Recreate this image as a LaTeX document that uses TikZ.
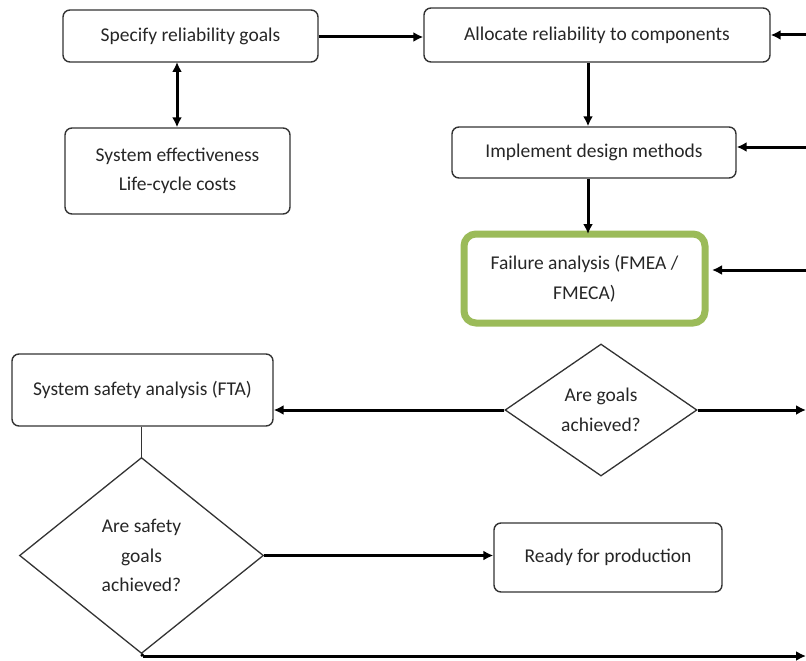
\documentclass[tikz,border=0pt]{standalone}
\usepackage{fontspec}
\setmainfont{Carlito}
\usetikzlibrary{arrows.meta,shapes.geometric}
\definecolor{boxline}{HTML}{333333}
\definecolor{greenline}{HTML}{9BBB59}
\tikzset{
  txt/.style={font=\fontsize{19.5}{29.5}\selectfont, align=center, text=black!85},
  box/.style={txt, draw=boxline, line width=1.4pt, rounded corners=7pt, inner sep=0pt},
  greenbox/.style={txt, draw=greenline, line width=7pt, rounded corners=12pt, inner sep=0pt},
  dia/.style={txt, draw=boxline, line width=1.3pt, diamond, inner sep=0pt, aspect=1.45},
  arr/.style={line width=3pt, -{Latex[length=10pt,width=10pt]}},
  darr/.style={line width=3pt, {Latex[length=10pt,width=10pt]}-{Latex[length=10pt,width=10pt]}},
  plain/.style={line width=1.4pt, draw=boxline},
  thickline/.style={line width=3pt},
}
\begin{document}
\begin{tikzpicture}[x=1pt,y=-1pt]
\useasboundingbox (0,0) rectangle (806,661);
\node[box, minimum width=255, minimum height=52] (spec) at (190.5,36) {Specify reliability goals};
\node[box, minimum width=346, minimum height=54] (alloc) at (597,35) {Allocate reliability to components};
\node[box, minimum width=225, minimum height=86] (eff) at (177.5,171) {System effectiveness\\Life-cycle costs};
\node[box, minimum width=284, minimum height=51] (impl) at (594,152.5) {Implement design methods};
\node[greenbox, minimum width=241, minimum height=89] (fail) at (584.5,278.5) {Failure analysis (FMEA /\\FMECA)};
\node[dia, minimum width=192, minimum height=132] (goal) at (601,410) {Are goals\\achieved?};
\node[box, minimum width=261, minimum height=72] (fta) at (142.5,390) {System safety analysis (FTA)};
\node[dia, minimum width=244, minimum height=196] (safe) at (141.5,555.5) {Are safety\\goals\\achieved?};
\node[box, minimum width=228, minimum height=69] (ready) at (608,557.5) {Ready for production};

\coordinate (r1) at (806,35);
\coordinate (r2) at (806,147);
\coordinate (r3) at (806,270);
\coordinate (r4) at (806,410);
\coordinate (r5) at (806,656);
\coordinate (b1) at (143,656);

\draw[arr] (spec.east |- 0,37) -- (alloc.west |- 0,37);
\draw[darr] (177,62) -- (eff.north -| 177,0);
\draw[arr] (alloc.south -| 588,0) -- (impl.north -| 588,0);
\draw[arr] (impl.south -| 588,0) -- ([yshift=-3.5pt]fail.north -| 588,0);
\draw[arr] (r1) -- (alloc.east |- r1);
\draw[arr] (r2) -- (impl.east |- r2);
\draw[arr] (r3) -- ([xshift=3.5pt]fail.east |- r3);
\draw[arr] (goal.east) -- (r4);
\draw[arr] (goal.west) -- (fta.east |- goal.west);
\draw[plain] (fta.south -| safe.north) -- (safe.north);
\draw[arr] (safe.east) -- (ready.west |- safe.east);
\draw[thickline] (safe.south) -- (b1);
\draw[arr] (b1) -- (r5);
\end{tikzpicture}
\end{document}
